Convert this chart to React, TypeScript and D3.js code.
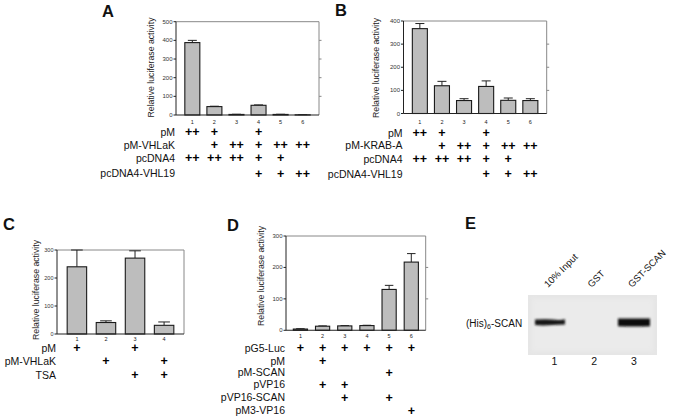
import React from "react";
import * as d3 from "d3";

// ---------- DATA ----------
const lanes6 = ["1", "2", "3", "4", "5", "6"];
const lanes4 = ["1", "2", "3", "4"];

const valuesA = [388, 45, 3, 52, 3, 1];
const errTopA = [400, 47, 4, 54, 4, 2];
const ticksA = [0, 100, 200, 300, 400, 500];
const rowLabelsA = ["pM", "pM-VHLaK", "pcDNA4", "pcDNA4-VHL19"];
const rowMarksA = [
  ["++", "+", "", "+", "", ""],
  ["", "+", "++", "+", "++", "++"],
  ["++", "++", "++", "+", "+", ""],
  ["", "", "", "+", "+", "++"],
];

const valuesB = [367, 120, 56, 117, 57, 56];
const errTopB = [389, 139, 64, 141, 67, 64];
const ticksB = [0, 100, 200, 300, 400];
const rowLabelsB = ["pM", "pM-KRAB-A", "pcDNA4", "pcDNA4-VHL19"];
const rowMarksB = [
  ["++", "+", "", "+", "", ""],
  ["", "+", "++", "+", "++", "++"],
  ["++", "++", "++", "+", "+", ""],
  ["", "", "", "+", "+", "++"],
];

const valuesC = [240, 41, 271, 31];
const errTopC = [300, 47, 297, 43];
const ticksC = [0, 100, 200, 300];
const rowLabelsC = ["pM", "pM-VHLaK", "TSA"];
const rowMarksC = [
  ["+", "", "+", ""],
  ["", "+", "", "+"],
  ["", "", "+", "+"],
];

const valuesD = [4, 13, 14, 15, 130, 217];
const errTopD = [5, 14, 15, 16, 143, 244];
const ticksD = [0, 100, 200, 300];
const rowLabelsD = ["pG5-Luc", "pM", "pM-SCAN", "pVP16", "pVP16-SCAN", "pM3-VP16"];
const rowMarksD = [
  ["+", "+", "+", "+", "+", "+"],
  ["", "+", "", "", "", ""],
  ["", "", "", "", "+", ""],
  ["", "+", "+", "", "", ""],
  ["", "", "+", "", "+", ""],
  ["", "", "", "", "", "+"],
];

const gelLaneLabels = ["10% Input", "GST", "GST-SCAN"];
const gelLaneNumbers = ["1", "2", "3"];

const FONT = "'Liberation Sans', Arial, Helvetica, sans-serif";

type PanelProps = {
  letter: string;
  letterX: number;
  letterY: number;
  cats: string[];
  values: number[];
  errTop: number[];
  ticks: number[];
  rightTicks: number[];
  left: number;
  right: number;
  top: number;
  bottom: number;
  padInner: number;
  padOuter: number;
  tickFont: number;
  ylabelX: number;
  ylabelY: number;
  xLabelY: number;
  rowLabels: string[];
  rowMarks: string[][];
  rowYs: number[];
};

function BarPanel(p: PanelProps) {
  const x = d3
    .scaleBand<string>()
    .domain(p.cats)
    .range([p.left, p.right])
    .paddingInner(p.padInner)
    .paddingOuter(p.padOuter);
  const yMax = p.ticks[p.ticks.length - 1];
  const y = d3.scaleLinear().domain([0, yMax]).range([p.bottom, p.top]);
  const bw = x.bandwidth();
  const cap = bw * 0.6;
  return (
    <g fontFamily={FONT}>
      <text x={p.letterX} y={p.letterY} fontSize={16.5} fontWeight="bold" fill="#111">
        {p.letter}
      </text>
      {/* frame top/right */}
      <line x1={p.left} x2={p.right} y1={p.top} y2={p.top} stroke="#888" strokeWidth={1} />
      <line x1={p.right} x2={p.right} y1={p.top} y2={p.bottom} stroke="#888" strokeWidth={1} />
      {p.rightTicks.map((t) => (
        <line key={"rt" + t} x1={p.right} x2={p.right + 2.5} y1={y(t)} y2={y(t)} stroke="#888" strokeWidth={1} />
      ))}
      {/* bars */}
      {p.cats.map((c, i) => {
        const x0 = x(c)!;
        const cx = x0 + bw / 2;
        return (
          <g key={c}>
            <line x1={cx} x2={cx} y1={y(p.values[i])} y2={y(p.errTop[i])} stroke="#222" strokeWidth={1} />
            <line x1={cx - cap / 2} x2={cx + cap / 2} y1={y(p.errTop[i])} y2={y(p.errTop[i])} stroke="#222" strokeWidth={1} />
            <rect
              x={x0}
              y={y(p.values[i])}
              width={bw}
              height={p.bottom - y(p.values[i])}
              fill="#bdbdbd"
              stroke="#1a1a1a"
              strokeWidth={1.1}
            />
            <text x={cx} y={p.xLabelY} fontSize={5.5} textAnchor="middle" dominantBaseline="central" fill="#222">
              {c}
            </text>
          </g>
        );
      })}
      {/* axes */}
      <line x1={p.left} x2={p.left} y1={p.top} y2={p.bottom} stroke="#222" strokeWidth={1} />
      <line x1={p.left} x2={p.right} y1={p.bottom} y2={p.bottom} stroke="#222" strokeWidth={1.1} />
      {p.ticks.map((t) => (
        <g key={"t" + t}>
          <line x1={p.left - 2.5} x2={p.left} y1={y(t)} y2={y(t)} stroke="#222" strokeWidth={1} />
          <text
            x={p.left - 3.5}
            y={y(t)}
            fontSize={p.tickFont}
            textAnchor="end"
            dominantBaseline="central"
            fill="#333"
          >
            {t}
          </text>
        </g>
      ))}
      <text
        transform={`translate(${p.ylabelX},${p.ylabelY}) rotate(-90)`}
        fontSize={8.7}
        textAnchor="middle"
        dominantBaseline="central"
        fill="#222"
      >
        Relative luciferase activity
      </text>
      {/* table */}
      {p.rowLabels.map((lab, r) => (
        <g key={lab}>
          <text
            x={p.left - 1}
            y={p.rowYs[r] + 3.7}
            fontSize={10.5}
            textAnchor="end"
            fill="#111"
          >
            {lab}
          </text>
          {p.rowMarks[r].map((m, i) =>
            m ? (
              <text
                key={i}
                x={x(p.cats[i])! + bw / 2}
                y={p.rowYs[r] + 4.2}
                fontSize={12.5}
                fontWeight="bold"
                textAnchor="middle"
                fill="#000"
              >
                {m}
              </text>
            ) : null
          )}
        </g>
      ))}
    </g>
  );
}

function GelPanel() {
  const lanes = d3.scalePoint<string>().domain(gelLaneNumbers).range([554.5, 634]);
  return (
    <g fontFamily={FONT}>
      <defs>
        <filter id="blur1" x="-20%" y="-50%" width="140%" height="200%">
          <feGaussianBlur stdDeviation="0.9" />
        </filter>
        <filter id="blur2" x="-20%" y="-20%" width="140%" height="140%">
          <feGaussianBlur stdDeviation="2" />
        </filter>
      </defs>
      <text x={465} y={229} fontSize={16.5} fontWeight="bold" fill="#111">
        E
      </text>
      <rect x={528} y={295} width={129} height={60} fill="#e6e6e6" />
      <rect x={532} y={299} width={121} height={52} fill="#ebebeb" filter="url(#blur2)" />
      {/* bands */}
      <path
        d="M535,319.5 Q550,318.8 558,320 Q562,320.3 565,319.3 L565,324.5 Q558,324.8 548,325.3 Q540,325.6 535,325 Z"
        fill="#141414"
        filter="url(#blur1)"
      />
      <path
        d="M618,318.6 Q634,318.2 650,318.6 L650,326.2 Q634,326.8 618,326.2 Z"
        fill="#0e0e0e"
        filter="url(#blur1)"
      />
      <text x={466} y={326.5} fontSize={10} fill="#111">
        (His)
        <tspan fontSize={7} dy={2}>6</tspan>
        <tspan dy={-2}>-SCAN</tspan>
      </text>
      {gelLaneLabels.map((l, i) => (
        <text
          key={l}
          transform={`translate(${[548, 591.5, 632][i]},${288}) rotate(-45)`}
          fontSize={9.5}
          fill="#111"
        >
          {l}
        </text>
      ))}
      {gelLaneNumbers.map((n) => (
        <text key={n} x={lanes(n)!} y={365} fontSize={10.5} textAnchor="middle" fill="#111">
          {n}
        </text>
      ))}
    </g>
  );
}

export default function App() {
  return (
    <svg
      width={675}
      height={419}
      viewBox="0 0 675 419"
      style={{ position: "absolute", left: 0, top: 0, background: "#fff" }}
    >
      <rect x={0} y={0} width={675} height={419} fill="#fff" />
      <BarPanel
        letter="A"
        letterX={102}
        letterY={17}
        cats={lanes6}
        values={valuesA}
        errTop={errTopA}
        ticks={ticksA}
        rightTicks={[100, 200, 300, 400]}
        left={176}
        right={319}
        top={21.7}
        bottom={115}
        padInner={0.32}
        padOuter={0.4}
        tickFont={6}
        ylabelX={151}
        ylabelY={67.5}
        xLabelY={121.7}
        rowLabels={rowLabelsA}
        rowMarks={rowMarksA}
        rowYs={[132.2, 144.8, 157.9, 173.3]}
      />
      <BarPanel
        letter="B"
        letterX={335}
        letterY={16}
        cats={lanes6}
        values={valuesB}
        errTop={errTopB}
        ticks={ticksB}
        rightTicks={[100, 200, 300]}
        left={403.5}
        right={546.7}
        top={21}
        bottom={113.5}
        padInner={0.32}
        padOuter={0.4}
        tickFont={6}
        ylabelX={376}
        ylabelY={68}
        xLabelY={121.5}
        rowLabels={rowLabelsB}
        rowMarks={rowMarksB}
        rowYs={[133, 145.5, 159, 174]}
      />
      <BarPanel
        letter="C"
        letterX={3}
        letterY={230}
        cats={lanes4}
        values={valuesC}
        errTop={errTopC}
        ticks={ticksC}
        rightTicks={[]}
        left={57}
        right={184}
        top={250}
        bottom={334}
        padInner={0.33}
        padOuter={0.35}
        tickFont={5.5}
        ylabelX={36}
        ylabelY={290}
        xLabelY={339.2}
        rowLabels={rowLabelsC}
        rowMarks={rowMarksC}
        rowYs={[347.9, 361, 375]}
      />
      <BarPanel
        letter="D"
        letterX={227}
        letterY={231}
        cats={lanes6}
        values={valuesD}
        errTop={errTopD}
        ticks={ticksD}
        rightTicks={[100, 200]}
        left={286}
        right={425.7}
        top={236}
        bottom={330.3}
        padInner={0.36}
        padOuter={0.33}
        tickFont={6}
        ylabelX={261}
        ylabelY={276}
        xLabelY={336.3}
        rowLabels={rowLabelsD}
        rowMarks={rowMarksD}
        rowYs={[347.9, 361, 372.5, 384.5, 397.7, 410.7]}
      />
      <GelPanel />
    </svg>
  );
}
